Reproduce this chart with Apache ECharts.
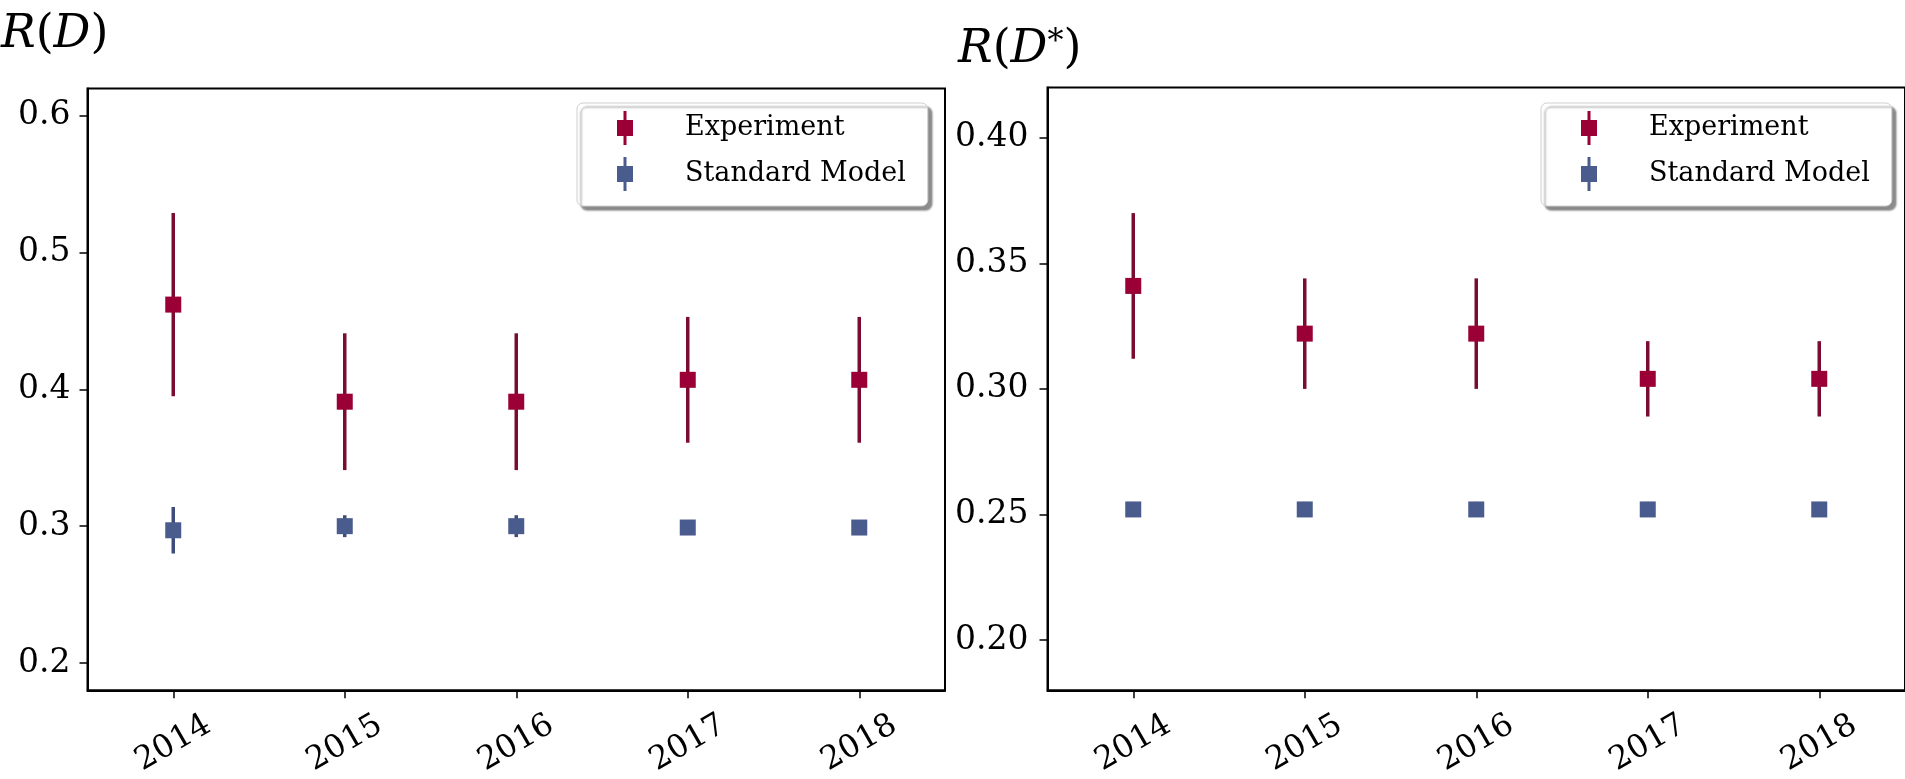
<!DOCTYPE html>
<html>
<head>
<meta charset="utf-8">
<script src="https://cdn.jsdelivr.net/npm/echarts@6/dist/echarts.min.js"></script>
<style>
  html, body { margin: 0; padding: 0; background: #fff; }
  #chart { width: 1905px; height: 779px; }
</style>
</head>
<body>
<div id="chart"></div>
<script>
// Measurement years shared by both panels
const years = ['2014', '2015', '2016', '2017', '2018'];

// R(D): experimental average and Standard Model prediction, with total uncertainties
const expRD = [0.462, 0.391, 0.391, 0.407, 0.407];
const expRDErr = [0.067, 0.050, 0.050, 0.046, 0.046];
const smRD = [0.297, 0.300, 0.300, 0.299, 0.299];
const smRDErr = [0.017, 0.008, 0.008, 0.003, 0.003];

// R(D*): experimental average and Standard Model prediction
const expRDs = [0.341, 0.322, 0.322, 0.304, 0.304];
const expRDsErr = [0.029, 0.022, 0.022, 0.015, 0.015];
const smRDs = [0.252, 0.252, 0.252, 0.252, 0.252];
const smRDsErr = [0.003, 0.003, 0.003, 0.003, 0.003];

// Y tick positions
const ticksRD = [0.2, 0.3, 0.4, 0.5, 0.6];
const ticksRDs = [0.20, 0.25, 0.30, 0.35, 0.40];

const FONT = 'DejaVu Serif';
const EXP_COLOR = '#9a0036';
const EXP_LINE = '#7a0c33';
const SM_COLOR = '#4a5b8e';
const SM_LINE = '#3e4d7c';

function rows(vals, errs) {
  return vals.map((v, i) => [i, v, errs[i]]);
}

// Error bar plus square marker, placed through the axes
function errorBar(fill, stroke) {
  return function (params, api) {
    const x = api.value(0), v = api.value(1), e = api.value(2);
    const c = api.coord([x, v]);
    const hi = api.coord([x, v + e]);
    const lo = api.coord([x, v - e]);
    const s = 16;
    return {
      type: 'group',
      children: [
        { type: 'line', shape: { x1: c[0], y1: hi[1], x2: c[0], y2: lo[1] },
          style: { stroke: stroke, lineWidth: 3.5 } },
        { type: 'rect', shape: { x: c[0] - s / 2, y: c[1] - s / 2, width: s, height: s },
          style: { fill: fill } }
      ]
    };
  };
}

// Legend marker: vertical bar through a square
const LEGEND_ICON = 'path://M6.5,0 H9.5 V9 H16 V25 H9.5 V34 H6.5 V25 H0 V9 H6.5 Z';

function legendAt(left) {
  return {
    left: left, top: 103, orient: 'vertical',
    icon: LEGEND_ICON, itemWidth: 16, itemHeight: 34, itemGap: 12,
    padding: [8, 22, 15, 40],
    backgroundColor: '#fff', borderColor: '#cfcfcf', borderWidth: 1, borderRadius: 6,
    shadowColor: 'rgba(0,0,0,0.45)', shadowOffsetX: 4, shadowOffsetY: 4, shadowBlur: 2,
    selectedMode: false,
    textStyle: { fontFamily: FONT, fontSize: 27, color: '#000', padding: [0, 0, 0, 47] },
    data: ['Experiment', 'Standard Model']
  };
}

function xAxisFor(gridIndex) {
  return {
    type: 'category', gridIndex: gridIndex, data: years, boundaryGap: true,
    axisLine: { show: true, lineStyle: { color: '#000', width: 2 } },
    axisTick: { show: true, alignWithLabel: true, inside: false, length: 8, lineStyle: { color: '#000', width: 1.5 } },
    axisLabel: { rotate: 30, align: 'center', verticalAlign: 'middle', margin: 53,
      fontFamily: FONT, fontSize: 32, color: '#000' },
    splitLine: { show: false }
  };
}

function yAxisFor(gridIndex, min, max, ticks, digits, margin) {
  return {
    type: 'value', gridIndex: gridIndex, min: min, max: max,
    axisLine: { show: true, lineStyle: { color: '#000', width: 2 } },
    axisTick: { show: true, length: 8, customValues: ticks, lineStyle: { color: '#000', width: 1.5 } },
    axisLabel: { customValues: ticks, margin: margin, fontFamily: FONT, fontSize: 33, color: '#000',
      formatter: v => Number(v).toFixed(digits) },
    splitLine: { show: false }
  };
}

// Title pieces: italic symbols, upright brackets, small raised star
const titleRich = {
  i: { fontFamily: FONT, fontStyle: 'italic', fontWeight: 'normal', fontSize: 46, color: '#000' },
  u: { fontFamily: FONT, fontWeight: 'normal', fontSize: 46, color: '#000' },
  s: { fontFamily: FONT, fontWeight: 'normal', fontSize: 32, color: '#000', padding: [0, 0, 15, 0] }
};

const chart = echarts.init(document.getElementById('chart'), null, { renderer: 'canvas' });

chart.setOption({
  animation: false,
  backgroundColor: '#fff',
  title: [
    { left: 1, top: 12, padding: 0,
      text: '{i|R}{u|(}{i|D}{u|)}',
      textStyle: { fontWeight: 'normal', rich: titleRich } },
    { left: 958, top: 27, padding: 0,
      text: '{i|R}{u|(}{i|D}{s|*}{u|)}',
      textStyle: { fontWeight: 'normal', rich: titleRich } }
  ],
  legend: [legendAt(577), legendAt(1541)],
  grid: [
    { left: 87.5, top: 88.5, width: 857.5, height: 605, show: true,
      borderColor: '#000', borderWidth: 2, backgroundColor: '#fff' },
    { left: 1047.5, top: 87.5, width: 860, height: 607.5, show: true,
      borderColor: '#000', borderWidth: 2, backgroundColor: '#fff' }
  ],
  xAxis: [xAxisFor(0), xAxisFor(1)],
  yAxis: [
    yAxisFor(0, 0.18, 0.62, ticksRD, 1, 17),
    yAxisFor(1, 0.18, 0.42, ticksRDs, 2, 19)
  ],
  series: [
    { type: 'custom', name: 'Experiment', xAxisIndex: 0, yAxisIndex: 0,
      itemStyle: { color: EXP_COLOR }, renderItem: errorBar(EXP_COLOR, EXP_LINE),
      data: rows(expRD, expRDErr) },
    { type: 'custom', name: 'Standard Model', xAxisIndex: 0, yAxisIndex: 0,
      itemStyle: { color: SM_COLOR }, renderItem: errorBar(SM_COLOR, SM_LINE),
      data: rows(smRD, smRDErr) },
    { type: 'custom', name: 'Experiment', xAxisIndex: 1, yAxisIndex: 1,
      itemStyle: { color: EXP_COLOR }, renderItem: errorBar(EXP_COLOR, EXP_LINE),
      data: rows(expRDs, expRDsErr) },
    { type: 'custom', name: 'Standard Model', xAxisIndex: 1, yAxisIndex: 1,
      itemStyle: { color: SM_COLOR }, renderItem: errorBar(SM_COLOR, SM_LINE),
      data: rows(smRDs, smRDsErr) }
  ]
});
</script>
</body>
</html>
